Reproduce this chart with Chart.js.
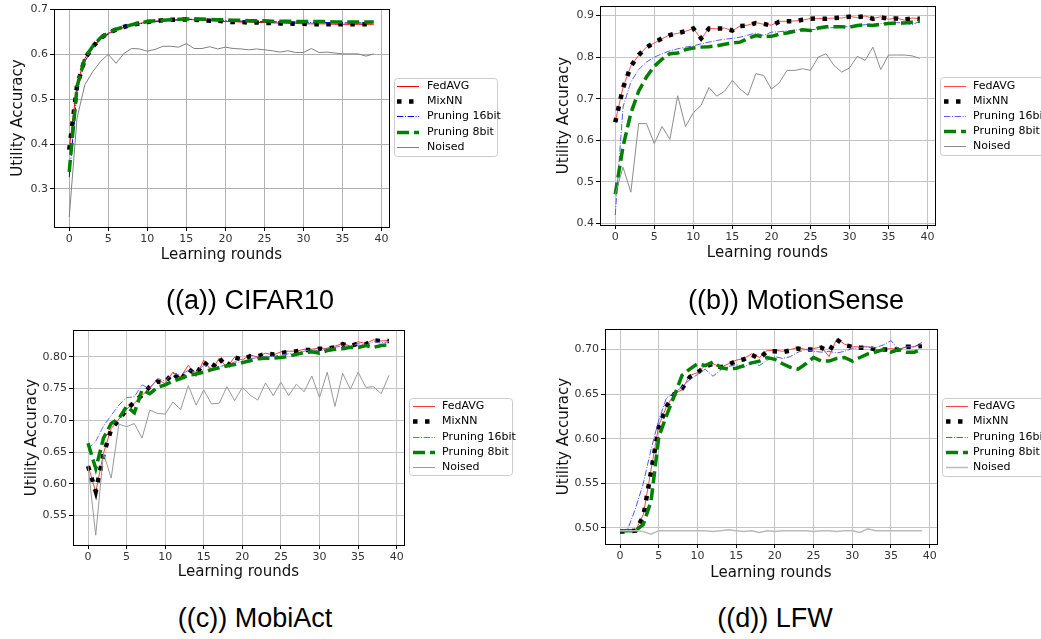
<!DOCTYPE html>
<html>
<head>
<meta charset="utf-8">
<script src="https://cdn.jsdelivr.net/npm/chart.js@4.4.1/dist/chart.umd.min.js"></script>
<style>
  html, body { margin: 0; padding: 0; background: #fff; }
  body { width: 1041px; height: 639px; position: relative; overflow: hidden; }
  .panel { position: absolute; }
  .panel canvas { display: block; }
  .caption {
    position: absolute;
    font-family: "Liberation Sans", Arial, sans-serif;
    font-size: 27px;
    color: #000;
    white-space: nowrap;
    transform: translate(-50%, -50%);
  }
</style>
</head>
<body>
<div class="panel" style="left:0px;top:-5px"><canvas id="chartA"></canvas></div>
<div class="panel" style="left:530px;top:-5px"><canvas id="chartB"></canvas></div>
<div class="panel" style="left:0px;top:315px"><canvas id="chartC"></canvas></div>
<div class="panel" style="left:530px;top:315px"><canvas id="chartD"></canvas></div>

<div class="caption" style="left:250px;top:300px">((a)) CIFAR10</div>
<div class="caption" style="left:796px;top:300px">((b)) MotionSense</div>
<div class="caption" style="left:255px;top:618px">((c)) MobiAct</div>
<div class="caption" style="left:775px;top:618px">((d)) LFW</div>

<script>
// ---- data ----
const rounds = [0, 1, 2, 3, 4, 5, 6, 7, 8, 9, 10, 11, 12, 13, 14, 15, 16, 17, 18, 19,
                20, 21, 22, 23, 24, 25, 26, 27, 28, 29, 30, 31, 32, 33, 34, 35, 36, 37, 38, 39];
const seriesNames = ['FedAVG', 'MixNN', 'Pruning 16bit', 'Pruning 8bit', 'Noised'];
const xTicks = ['0', '5', '10', '15', '20', '25', '30', '35', '40'];

// (a) CIFAR10
const cifarFedAvg = [0.389, 0.533, 0.591, 0.617, 0.636, 0.647, 0.655, 0.660, 0.665, 0.669, 0.672, 0.674, 0.675, 0.676, 0.677, 0.678, 0.677, 0.676, 0.675, 0.674, 0.673, 0.673, 0.672, 0.672, 0.671, 0.671, 0.670, 0.670, 0.669, 0.669, 0.668, 0.668, 0.668, 0.668, 0.667, 0.667, 0.667, 0.667, 0.667, 0.667];
const cifarMixNN = [0.387, 0.530, 0.590, 0.617, 0.636, 0.648, 0.655, 0.661, 0.666, 0.669, 0.672, 0.674, 0.676, 0.677, 0.677, 0.678, 0.677, 0.676, 0.675, 0.675, 0.673, 0.672, 0.672, 0.671, 0.671, 0.670, 0.670, 0.669, 0.669, 0.668, 0.668, 0.667, 0.667, 0.667, 0.667, 0.667, 0.667, 0.667, 0.667, 0.667];
const cifarPrune16 = [0.326, 0.518, 0.584, 0.614, 0.633, 0.645, 0.654, 0.660, 0.665, 0.668, 0.671, 0.673, 0.675, 0.676, 0.677, 0.678, 0.678, 0.677, 0.677, 0.676, 0.675, 0.675, 0.674, 0.674, 0.673, 0.673, 0.673, 0.672, 0.672, 0.672, 0.671, 0.671, 0.671, 0.671, 0.671, 0.670, 0.670, 0.670, 0.670, 0.671];
const cifarPrune8 = [0.338, 0.528, 0.592, 0.618, 0.637, 0.648, 0.656, 0.661, 0.666, 0.670, 0.673, 0.675, 0.676, 0.677, 0.678, 0.679, 0.679, 0.679, 0.678, 0.677, 0.677, 0.676, 0.676, 0.675, 0.675, 0.675, 0.674, 0.674, 0.674, 0.673, 0.673, 0.673, 0.673, 0.673, 0.672, 0.672, 0.672, 0.672, 0.672, 0.672];
const cifarNoised = [0.237, 0.458, 0.532, 0.561, 0.584, 0.600, 0.580, 0.602, 0.613, 0.612, 0.607, 0.611, 0.618, 0.618, 0.616, 0.624, 0.613, 0.613, 0.617, 0.612, 0.616, 0.613, 0.612, 0.610, 0.612, 0.610, 0.608, 0.605, 0.608, 0.604, 0.604, 0.613, 0.604, 0.605, 0.603, 0.601, 0.601, 0.601, 0.596, 0.601];
const cifarYTicks = ['0.3', '0.4', '0.5', '0.6', '0.7'];

// (b) MotionSense
const motionFedAvg = [0.644, 0.727, 0.779, 0.804, 0.824, 0.834, 0.844, 0.854, 0.857, 0.862, 0.869, 0.844, 0.869, 0.868, 0.870, 0.863, 0.875, 0.877, 0.883, 0.879, 0.877, 0.886, 0.886, 0.887, 0.889, 0.893, 0.893, 0.893, 0.894, 0.894, 0.898, 0.895, 0.899, 0.893, 0.897, 0.891, 0.894, 0.889, 0.894, 0.893];
const motionMixNN = [0.643, 0.726, 0.778, 0.805, 0.823, 0.835, 0.845, 0.853, 0.858, 0.862, 0.869, 0.845, 0.869, 0.869, 0.869, 0.864, 0.875, 0.876, 0.882, 0.880, 0.876, 0.885, 0.886, 0.886, 0.890, 0.892, 0.893, 0.892, 0.894, 0.895, 0.897, 0.896, 0.898, 0.892, 0.896, 0.892, 0.893, 0.890, 0.893, 0.892];
const motionPrune16 = [0.420, 0.680, 0.740, 0.770, 0.788, 0.800, 0.808, 0.815, 0.820, 0.824, 0.827, 0.832, 0.836, 0.840, 0.843, 0.845, 0.848, 0.853, 0.858, 0.852, 0.860, 0.861, 0.863, 0.865, 0.866, 0.866, 0.867, 0.870, 0.871, 0.872, 0.874, 0.876, 0.878, 0.879, 0.881, 0.882, 0.883, 0.882, 0.878, 0.886];
const motionPrune8 = [0.470, 0.585, 0.665, 0.718, 0.752, 0.778, 0.795, 0.808, 0.810, 0.818, 0.822, 0.824, 0.825, 0.827, 0.831, 0.834, 0.836, 0.845, 0.852, 0.849, 0.850, 0.855, 0.858, 0.862, 0.866, 0.864, 0.870, 0.873, 0.873, 0.873, 0.872, 0.876, 0.878, 0.876, 0.879, 0.881, 0.882, 0.882, 0.884, 0.886];
const motionNoised = [0.470, 0.535, 0.475, 0.640, 0.640, 0.592, 0.633, 0.602, 0.707, 0.633, 0.666, 0.684, 0.727, 0.706, 0.718, 0.744, 0.723, 0.708, 0.760, 0.756, 0.723, 0.738, 0.768, 0.768, 0.772, 0.768, 0.800, 0.808, 0.780, 0.764, 0.774, 0.802, 0.792, 0.824, 0.770, 0.805, 0.805, 0.805, 0.803, 0.797];
const motionYTicks = ['0.4', '0.5', '0.6', '0.7', '0.8', '0.9'];

// (c) MobiAct
const mobiFedAvg = [0.629, 0.587, 0.648, 0.687, 0.702, 0.718, 0.727, 0.739, 0.752, 0.764, 0.758, 0.776, 0.768, 0.787, 0.769, 0.795, 0.778, 0.798, 0.783, 0.800, 0.795, 0.803, 0.800, 0.806, 0.803, 0.808, 0.809, 0.809, 0.812, 0.812, 0.814, 0.813, 0.817, 0.821, 0.817, 0.824, 0.821, 0.827, 0.825, 0.826];
const mobiMixNN = [0.628, 0.588, 0.646, 0.686, 0.701, 0.717, 0.729, 0.740, 0.753, 0.761, 0.760, 0.775, 0.762, 0.781, 0.772, 0.792, 0.781, 0.798, 0.784, 0.799, 0.796, 0.801, 0.801, 0.805, 0.804, 0.806, 0.808, 0.809, 0.811, 0.811, 0.813, 0.813, 0.815, 0.820, 0.817, 0.821, 0.820, 0.826, 0.825, 0.825];
const mobiPrune16 = [0.655, 0.667, 0.691, 0.708, 0.724, 0.736, 0.737, 0.756, 0.750, 0.766, 0.762, 0.774, 0.771, 0.779, 0.776, 0.787, 0.782, 0.785, 0.787, 0.792, 0.792, 0.797, 0.799, 0.801, 0.801, 0.803, 0.805, 0.805, 0.809, 0.812, 0.809, 0.814, 0.815, 0.818, 0.816, 0.821, 0.818, 0.824, 0.822, 0.824];
const mobiPrune8 = [0.664, 0.624, 0.672, 0.695, 0.703, 0.722, 0.712, 0.748, 0.742, 0.752, 0.756, 0.762, 0.766, 0.771, 0.773, 0.776, 0.780, 0.783, 0.786, 0.788, 0.791, 0.794, 0.797, 0.798, 0.798, 0.799, 0.801, 0.804, 0.807, 0.808, 0.806, 0.810, 0.812, 0.813, 0.815, 0.815, 0.818, 0.815, 0.818, 0.819];
const mobiNoised = [0.628, 0.519, 0.648, 0.609, 0.694, 0.690, 0.695, 0.672, 0.716, 0.711, 0.710, 0.729, 0.717, 0.755, 0.724, 0.748, 0.726, 0.727, 0.753, 0.731, 0.752, 0.740, 0.732, 0.759, 0.739, 0.760, 0.739, 0.757, 0.745, 0.770, 0.736, 0.776, 0.722, 0.774, 0.749, 0.776, 0.752, 0.753, 0.742, 0.771];
const mobiYTicks = ['0.55', '0.60', '0.65', '0.70', '0.75', '0.80'];

// (d) LFW
const lfwFedAvg = [0.496, 0.496, 0.497, 0.515, 0.565, 0.615, 0.636, 0.650, 0.655, 0.671, 0.674, 0.682, 0.684, 0.680, 0.684, 0.688, 0.690, 0.695, 0.691, 0.699, 0.699, 0.698, 0.700, 0.702, 0.700, 0.701, 0.703, 0.692, 0.712, 0.706, 0.703, 0.703, 0.703, 0.700, 0.700, 0.701, 0.700, 0.703, 0.703, 0.708];
const lfwMixNN = [0.496, 0.496, 0.497, 0.513, 0.563, 0.613, 0.636, 0.650, 0.656, 0.669, 0.674, 0.681, 0.684, 0.680, 0.683, 0.687, 0.689, 0.694, 0.690, 0.698, 0.698, 0.697, 0.699, 0.701, 0.700, 0.700, 0.702, 0.698, 0.711, 0.705, 0.703, 0.702, 0.702, 0.700, 0.700, 0.700, 0.700, 0.703, 0.703, 0.704];
const lfwPrune16 = [0.497, 0.499, 0.522, 0.550, 0.588, 0.621, 0.646, 0.651, 0.658, 0.666, 0.672, 0.678, 0.670, 0.677, 0.681, 0.683, 0.680, 0.686, 0.682, 0.688, 0.692, 0.690, 0.692, 0.697, 0.700, 0.698, 0.697, 0.698, 0.696, 0.698, 0.701, 0.702, 0.703, 0.702, 0.705, 0.710, 0.700, 0.703, 0.703, 0.706];
const lfwPrune8 = [0.497, 0.497, 0.497, 0.504, 0.530, 0.602, 0.626, 0.648, 0.671, 0.678, 0.684, 0.682, 0.686, 0.680, 0.678, 0.679, 0.682, 0.685, 0.687, 0.691, 0.689, 0.684, 0.680, 0.678, 0.684, 0.691, 0.687, 0.687, 0.690, 0.691, 0.687, 0.691, 0.695, 0.697, 0.700, 0.697, 0.700, 0.697, 0.697, 0.700];
const lfwNoised = [0.497, 0.497, 0.497, 0.496, 0.493, 0.497, 0.497, 0.497, 0.497, 0.497, 0.497, 0.497, 0.496, 0.497, 0.498, 0.497, 0.496, 0.497, 0.495, 0.497, 0.496, 0.497, 0.497, 0.497, 0.497, 0.496, 0.497, 0.497, 0.496, 0.497, 0.497, 0.495, 0.499, 0.497, 0.497, 0.497, 0.497, 0.497, 0.497, 0.497];
const lfwYTicks = ['0.50', '0.55', '0.60', '0.65', '0.70'];

// ---- styles ----
function lineStyles(red, blue, gray, grayWidth) {
  return [
    { borderColor: red, borderWidth: 1 },
    { borderColor: '#000000', borderWidth: 4.5, borderDash: [4.5, 7.5] },
    { borderColor: blue, borderWidth: 1, borderDash: [6.4, 1.6, 1, 1.6] },
    { borderColor: '#008000', borderWidth: 3.5, borderDash: [12, 5] },
    { borderColor: gray, borderWidth: grayWidth }
  ];
}

const FONT = 'DejaVu Sans';

// frame round the plot area (matplotlib spines)
const framePlugin = {
  id: 'frame',
  afterDatasetsDraw(chart) {
    const { ctx, chartArea: a } = chart;
    ctx.save();
    ctx.strokeStyle = '#000';
    ctx.lineWidth = 1;
    const l = Math.round(a.left) + 0.5, t = Math.round(a.top) + 0.5;
    const r = Math.round(a.right) + 0.5, b = Math.round(a.bottom) + 0.5;
    ctx.strokeRect(l, t, r - l, b - t);
    ctx.restore();
  }
};

// boxed legend placed to the right of the axes
const boxLegend = {
  id: 'boxLegend',
  afterDraw(chart, args, opts) {
    const ctx = chart.ctx;
    const { x, y, w, h } = opts;
    ctx.save();
    ctx.beginPath();
    ctx.roundRect(x + 0.5, y + 0.5, w, h, 3);
    ctx.fillStyle = 'rgba(255,255,255,0.8)';
    ctx.fill();
    ctx.strokeStyle = '#cccccc';
    ctx.lineWidth = 1;
    ctx.stroke();
    ctx.font = '11px "' + FONT + '"';
    ctx.textBaseline = 'middle';
    chart.data.datasets.forEach((ds, i) => {
      const cy = Math.round(y + opts.rowTop + i * opts.rowGap) + 0.5;
      ctx.beginPath();
      ctx.strokeStyle = ds.borderColor;
      ctx.lineWidth = ds.borderWidth;
      ctx.lineCap = 'butt';
      ctx.setLineDash(ds.borderDash || []);
      ctx.moveTo(x + opts.lineX, cy);
      ctx.lineTo(x + opts.lineX + 22, cy);
      ctx.stroke();
      ctx.setLineDash([]);
      ctx.fillStyle = '#000';
      ctx.fillText(ds.label, x + opts.textX, cy);
    });
    ctx.restore();
  }
};

function makeChart(id, p) {
  const canvas = document.getElementById(id);
  canvas.width = p.w;
  canvas.height = p.h;
  canvas.style.width = p.w + 'px';
  canvas.style.height = p.h + 'px';

  const all = p.series.flat();
  const lo = Math.min(...all), hi = Math.max(...all);
  const ym = (hi - lo) * 0.05;
  const xlo = rounds[0], xhi = rounds[rounds.length - 1];
  const xm = (xhi - xlo) * 0.05;

  const tickFont = { family: FONT, size: 11 };
  const titleFont = { family: FONT, size: 15 };

  return new Chart(canvas, {
    type: 'line',
    data: {
      datasets: p.series.map((vals, i) => Object.assign({
        label: seriesNames[i],
        data: rounds.map((r, k) => ({ x: r, y: vals[k] })),
        pointRadius: 0,
        fill: false,
        tension: 0,
        order: p.series.length - 1 - i
      }, p.styles[i]))
    },
    options: {
      responsive: false,
      animation: false,
      events: [],
      layout: { padding: p.padding },
      plugins: {
        legend: { display: false },
        tooltip: { enabled: false },
        boxLegend: p.legend
      },
      scales: {
        x: {
          type: 'linear',
          min: xlo - xm,
          max: xhi + xm,
          afterBuildTicks: s => { s.ticks = xTicks.map(t => ({ value: parseFloat(t) })); },
          afterFit: s => { s.height = p.xH; },
          ticks: {
            autoSkip: false, maxRotation: 0, padding: 2, color: '#333', font: tickFont,
            callback: (v, i) => xTicks[i]
          },
          grid: { color: p.gridColor, lineWidth: 1, tickLength: 4, tickColor: '#000' },
          border: { display: false },
          title: { display: true, text: 'Learning rounds', color: '#111', font: titleFont, padding: 0 }
        },
        y: {
          type: 'linear',
          min: lo - ym,
          max: hi + ym,
          afterBuildTicks: s => { s.ticks = p.yTicks.map(t => ({ value: parseFloat(t) })); },
          afterFit: s => { s.width = p.yW; },
          ticks: {
            autoSkip: false, padding: 2, color: '#333', font: tickFont,
            callback: (v, i) => p.yTicks[i]
          },
          grid: { color: p.gridColor, lineWidth: 1, tickLength: 4, tickColor: '#000' },
          border: { display: false },
          title: { display: true, text: 'Utility Accuracy', color: '#111', font: titleFont, padding: 0 }
        }
      }
    },
    plugins: [framePlugin, boxLegend]
  });
}

makeChart('chartA', {
  w: 520, h: 275,
  padding: { top: 14, left: 9.5, right: 131, bottom: 6 },
  yW: 44.5, xH: 37,
  gridColor: '#b0b0b0',
  series: [cifarFedAvg, cifarMixNN, cifarPrune16, cifarPrune8, cifarNoised],
  styles: lineStyles('#ff0000', '#0000ff', '#808080', 1),
  yTicks: cifarYTicks,
  legend: { x: 394, y: 83, w: 103, h: 78, rowTop: 8, rowGap: 15.2, lineX: 3, textX: 33 }
});

makeChart('chartB', {
  w: 511, h: 275,
  padding: { top: 11, left: 25.5, right: 106, bottom: 8 },
  yW: 44.5, xH: 37,
  gridColor: '#c4c4c4',
  series: [motionFedAvg, motionMixNN, motionPrune16, motionPrune8, motionNoised],
  styles: lineStyles('#ff4d4d', '#5a5aff', '#8c8c8c', 1),
  yTicks: motionYTicks,
  legend: { x: 410, y: 82, w: 120, h: 78, rowTop: 8.5, rowGap: 15.1, lineX: 4, textX: 33 }
});

makeChart('chartC', {
  w: 530, h: 275,
  padding: { top: 15, left: 23.5, right: 126, bottom: 8.5 },
  yW: 49.5, xH: 36.5,
  gridColor: '#c4c4c4',
  series: [mobiFedAvg, mobiMixNN, mobiPrune16, mobiPrune8, mobiNoised],
  styles: lineStyles('#ff3b3b', '#6b6bff', '#999999', 1),
  yTicks: mobiYTicks,
  legend: { x: 409, y: 83, w: 103, h: 77, rowTop: 8.3, rowGap: 15.1, lineX: 4, textX: 33 }
});

makeChart('chartD', {
  w: 511, h: 275,
  padding: { top: 14, left: 25, right: 104, bottom: 7.7 },
  yW: 50, xH: 38.3,
  gridColor: '#c4c4c4',
  series: [lfwFedAvg, lfwMixNN, lfwPrune16, lfwPrune8, lfwNoised],
  styles: lineStyles('#ff4040', '#5555ff', '#bbbbbb', 1.5),
  yTicks: lfwYTicks,
  legend: { x: 412, y: 83, w: 120, h: 78, rowTop: 8.3, rowGap: 15.1, lineX: 4, textX: 31 }
});
</script>
</body>
</html>
